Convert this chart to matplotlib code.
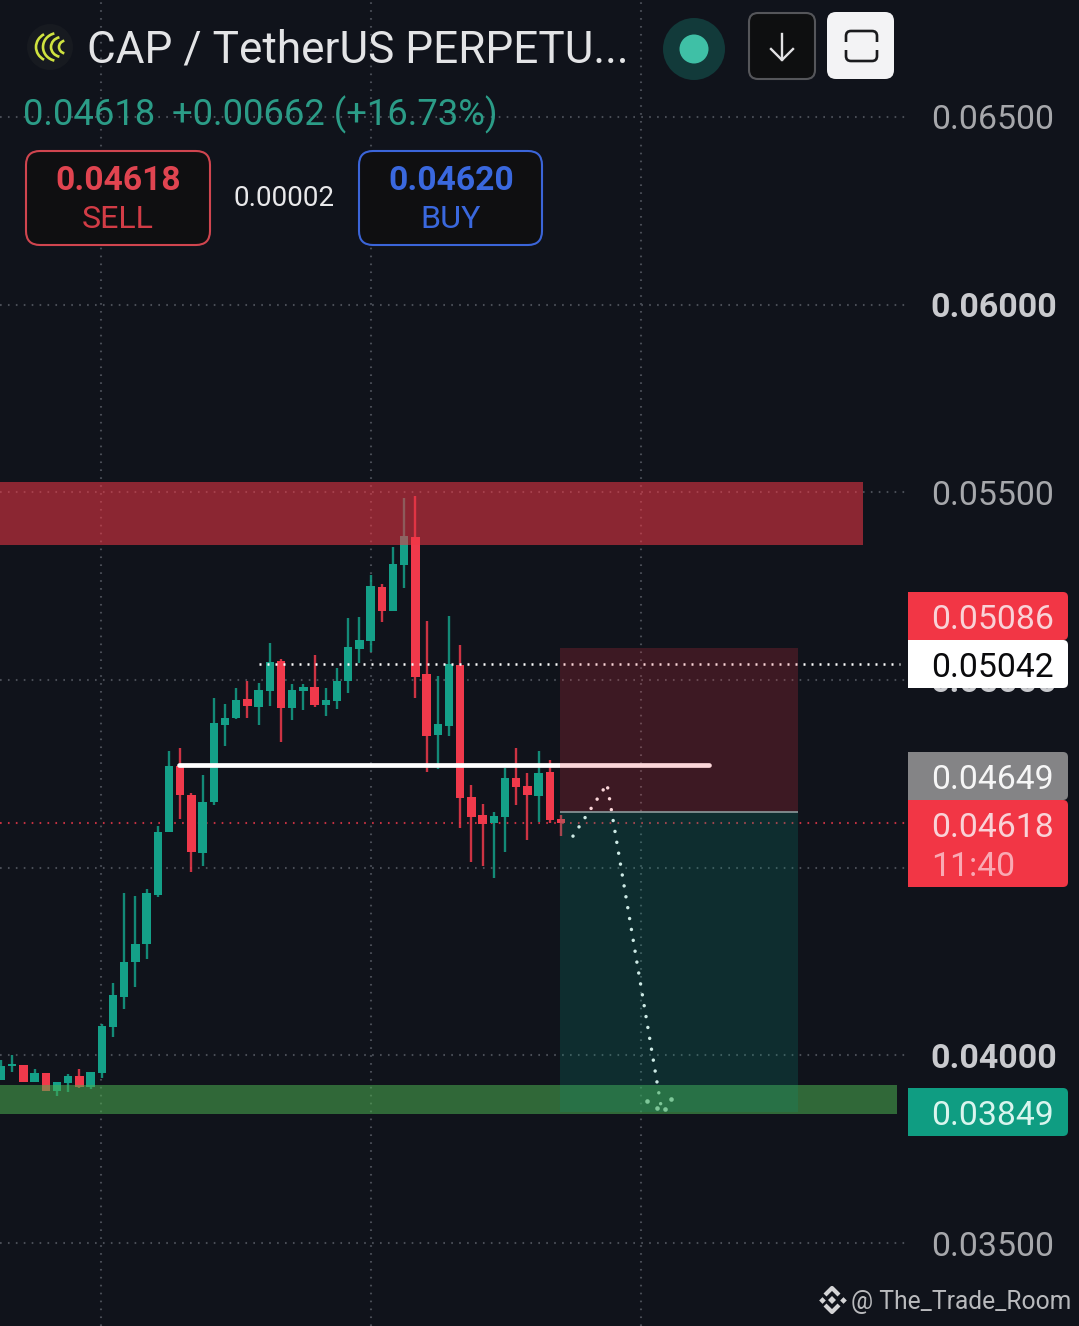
import numpy as np
import matplotlib
matplotlib.use('Agg')
import matplotlib.pyplot as plt
from matplotlib.patches import FancyBboxPatch, Rectangle, Circle, Arc, PathPatch
from matplotlib.path import Path

plt.rcParams['font.family'] = ['Roboto', 'DejaVu Sans']

# candles, oldest first
opens = [.03934, .03972, .03974, .03929, .03953, .03905, .03926, .03945, .03916, .03953,
         .04076, .04155, .04249, .04297, .04427, .04595, .04771, .04694, .04539, .04675,
         .04880, .04899, .04949, .04928, .04971, .05051, .04925, .04971, .04981, .04933,
         .04944, .04997, .05083, .05104, .05248, .05184, .05306, .05381, .05016, .04853,
         .04877, .05040, .04688, .04640, .04619, .04635, .04739, .04718, .04691, .04755,
         .04630]
highs = [.03988, .04001, .03974, .03964, .03953, .03929, .03950, .03964, .03956, .04084,
         .04193, .04433, .04425, .04443, .04611, .04811, .04819, .04699, .04747, .04952,
         .04936, .04979, .04997, .04992, .05099, .05056, .04989, .04989, .05067, .04979,
         .05032, .05165, .05168, .05280, .05256, .05354, .05485, .05490, .05157, .05011,
         .05171, .05093, .04720, .04670, .04648, .04766, .04819, .04752, .04811, .04787,
         .04640]
lows = [.03934, .03956, .03929, .03929, .03905, .03892, .03902, .03913, .03910, .03940,
        .04049, .04123, .04182, .04257, .04422, .04595, .04630, .04488, .04504, .04667,
        .04824, .04896, .04899, .04880, .04931, .04835, .04893, .04920, .04928, .04904,
        .04923, .04965, .05045, .05075, .05155, .05184, .05245, .04952, .04755, .04763,
        .04851, .04606, .04515, .04504, .04472, .04542, .04667, .04574, .04622, .04619,
        .04584]
closes = [.03972, .03977, .03929, .03953, .03905, .03929, .03945, .03916, .03956, .04078,
          .04161, .04249, .04297, .04433, .04595, .04771, .04694, .04542, .04675, .04885,
          .04899, .04947, .04931, .04973, .05048, .04925, .04973, .04981, .04933, .04947,
          .04997, .05088, .05107, .05250, .05184, .05309, .05384, .05008, .04851, .04883,
          .05043, .04686, .04635, .04616, .04638, .04739, .04715, .04694, .04752, .04627,
          .04618]

# 0.04500 sits fully behind the last price badge, so it gets a grid line but no label
price_ticks = [.065, .06, .055, .05, .045, .04, .035]
price_labels = ['0.06500', '0.06000', '0.05500', '0.05000', '', '0.04000', '0.03500']
bold_ticks = ['0.06000', '0.05000', '0.04000']
time_ticks = [8.93, 33.04, 57.14]

last_price = .04618
avg_price = .05042
neckline = .04774
supply_zone = (.05360, .05528)
demand_zone = (.03844, .03921)
stop_price = .05086
entry_price = .04649
target_price = .03849

forecast_bars = [51.07, 54.11, 58.93]
forecast_prices = [.04584, .04723, .03865]
arrow_bars = [57.68, 58.57, 59.29, 59.82]
arrow_prices = [.03878, .03860, .03857, .03884]

BG = '#10131b'
GREEN = '#14a088'
RED = '#f0394b'
W, H = 1079, 1326
PX_PRICE = .005 / 187.67
PX_RIGHT = 905

fig = plt.figure(figsize=(W / 100, H / 100), dpi=100, facecolor=BG)

# price chart, one bar is 11.2 px
ax = fig.add_axes([0, 0, PX_RIGHT / W, 1], facecolor=BG)
ax.set_xlim(-1 / 11.2, (PX_RIGHT - 1) / 11.2)
ax.set_ylim(.05 - (H - 680) * PX_PRICE, .05 + 680 * PX_PRICE)
ax.set_xticks(time_ticks)
ax.set_xticklabels([])
ax.yaxis.tick_right()
ax.set_yticks(price_ticks)
ax.set_yticklabels(price_labels)
ax.tick_params(length=0, pad=18.5)
ax.tick_params(axis='y', labelsize=24.4, labelcolor='#a6a7ab')
for lab in ax.get_yticklabels():
    if lab.get_text() in bold_ticks:
        lab.set_fontweight('bold')
        lab.set_color('#c9cace')
for s in ax.spines.values():
    s.set_visible(False)
ax.set_axisbelow(True)
ax.grid(True, color='#494d56', lw=1.5, linestyle=(0, (0.8, 3.0)))

o, h, l, c = map(np.array, (opens, highs, lows, closes))
bars = np.arange(len(o))
cols = np.where(c >= o, GREEN, RED)
ax.vlines(bars, l, h, colors=cols, lw=1.7, zorder=2, alpha=0.85)
ax.bar(bars, np.maximum(np.abs(c - o), 6e-5), bottom=np.minimum(o, c), width=0.76, color=cols, zorder=3)

ax.axhline(last_price, color=RED, lw=1.5, linestyle=(0, (0.8, 3.0)), alpha=0.8, zorder=2)
ax.hlines(avg_price, 23, 80.3, color='white', lw=1.8, linestyle=(0, (0.8, 2.4)), zorder=4)
ax.hlines(neckline, 15.9, 63.2, color='white', lw=3.4, zorder=4, capstyle='round')

# forecast path
ax.plot(forecast_bars, forecast_prices, color='white', lw=2.5, linestyle=(0, (0.01, 3.17)),
        dash_capstyle='round', zorder=4)
ax.plot(arrow_bars, arrow_prices, 'o', color='white', ms=3.3, mew=0, zorder=4)

# zones and position box go over the candles
ax.axhspan(supply_zone[0], supply_zone[1], xmax=(863 / PX_RIGHT), color='#f23645', alpha=0.55, lw=0, zorder=5)
ax.axhspan(demand_zone[0], demand_zone[1], xmax=(897 / PX_RIGHT), color='#4caf50', alpha=0.55, lw=0, zorder=5)
box_l, box_r = 49.9, 71.16
ax.add_patch(Rectangle((box_l, entry_price), box_r - box_l, stop_price - entry_price,
                       color='#f23645', alpha=0.2, lw=0, zorder=5))
ax.add_patch(Rectangle((box_l, target_price), box_r - box_l, entry_price - target_price,
                       color='#089981', alpha=0.2, lw=0, zorder=5))
ax.hlines(entry_price, box_l, box_r, color='#8b9a9c', lw=1.2, zorder=6)

# app chrome on top, in pixels
ui = fig.add_axes([0, 0, 1, 1])
ui.set_xlim(0, W)
ui.set_ylim(H, 0)
ui.axis('off')


def box(x0, y0, x1, y1, fc, ec='none', lw=0, r=8):
    ui.add_patch(FancyBboxPatch((x0 + r, y0 + r), x1 - x0 - 2 * r, y1 - y0 - 2 * r,
                                boxstyle='round,pad=%g,rounding_size=%g' % (r, r),
                                fc=fc, ec=ec, lw=lw))


def badge(y0, y1, fc):
    box(908, y0, 1068, y1, fc, r=5)
    ui.add_patch(Rectangle((908, y0), 30, y1 - y0, fc=fc, lw=0))


def txt(x, y, s, size, color, weight='normal', ha='left'):
    ui.text(x, y - 1, s, fontsize=size, color=color, fontweight=weight, ha=ha, va='center_baseline')


# logo
ui.add_patch(Circle((50, 47), 23, fc='#171a20', lw=0))
for cx, rx, ry, t0, t1 in ((53, 17, 15, 125, 235), (58, 15, 14, 105, 255),
                           (62, 11, 10, 105, 255), (66, 7, 6.5, 105, 255)):
    ui.add_patch(Arc((cx, 47), 2 * rx, 2 * ry, theta1=t0, theta2=t1, color='#cfe23f', lw=1.9))

txt(87, 47, 'CAP / TetherUS PERPETU...', 31.8, '#e3e4e6')
txt(23, 112, '0.04618', 26.2, '#2b9c87')
txt(172, 112, '+0.00662 (+16.73%)', 26.2, '#2b9c87')

box(26, 151, 210, 245, '#0f0f11', ec='#d0454f', lw=1.5, r=14)
box(359, 151, 542, 245, '#0f0f11', ec='#3b65d9', lw=1.5, r=14)
txt(118, 178, '0.04618', 24.2, '#e04450', 'bold', 'center')
txt(118, 217, 'SELL', 23.2, '#d23c46', ha='center')
txt(451, 178, '0.04620', 24.2, '#3a68de', 'bold', 'center')
txt(451, 217, 'BUY', 23.2, '#3a68de', ha='center')
txt(284, 197, '0.00002', 20, '#e8e8ea', ha='center')

# live dot and the two buttons
ui.add_patch(Circle((694, 49), 31, fc='#123a3a', lw=0))
ui.add_patch(Circle((694, 49), 14.5, fc='#3fc0a6', lw=0))
box(749, 13, 815, 79, '#0e0f10', ec='#55565a', lw=1.5, r=9)
ui.plot([782, 782], [34, 60], color='#e2e2e4', lw=1.7)
ui.plot([771, 782, 793], [49, 60, 49], color='#e2e2e4', lw=1.7)
box(827, 12, 894, 79, '#f3f3f5', r=9)
for y_end, y_line, y_corner in ((42, 31, 36), (50, 61, 56)):
    verts = [(846, y_end), (846, y_corner), (846, y_line), (851, y_line), (872, y_line),
             (877, y_line), (877, y_corner), (877, y_end)]
    codes = [Path.MOVETO, Path.LINETO, Path.CURVE3, Path.CURVE3, Path.LINETO,
             Path.CURVE3, Path.CURVE3, Path.LINETO]
    ui.add_patch(PathPatch(Path(verts, codes), fc='none', ec='#1a1b1e', lw=1.9))

# price badges
badge(592, 640, '#f23645')
txt(931.5, 617.6, '0.05086', 24.3, '#f9d2d7')
badge(640, 688, '#ffffff')
txt(931.5, 665.6, '0.05042', 24.3, '#0a0a0c')
badge(752, 800, '#848486')
txt(931.5, 777.6, '0.04649', 24.3, '#f6f6f6')
badge(800, 887, '#f23645')
txt(931.5, 825.6, '0.04618', 24.3, '#f9d2d7')
txt(931.5, 864.6, '11:40', 24.3, '#f9aab4')
badge(1088, 1136, '#0f9d82')
txt(931.5, 1113.6, '0.03849', 24.3, '#d9f5ee')

# watermark
for x, y, m, ms in ((832, 1300, 'D', 4), (822, 1300, 'D', 3.4), (842.5, 1300, 'D', 3.4)):
    ui.plot(x, y, m, color='#d4d4d6', ms=ms, mew=0)
ui.plot([825, 832, 839], [1295, 1288, 1295], color='#d4d4d6', lw=3, solid_capstyle='butt')
ui.plot([825, 832, 839], [1305, 1312, 1305], color='#d4d4d6', lw=3, solid_capstyle='butt')
txt(851, 1300, '@ The_Trade_Room', 17.7, '#b9babd')

fig.savefig('out.png', dpi=100, facecolor=BG)
